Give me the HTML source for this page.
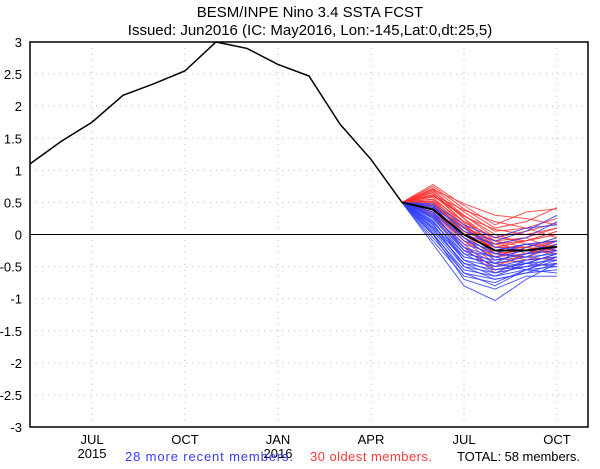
<!DOCTYPE html>
<html><head><meta charset="utf-8"><style>
body{margin:0;background:#fff;}
svg text{font-family:"Liberation Sans",sans-serif;}
</style></head><body>
<svg id="chart" width="600" height="464" viewBox="0 0 600 464" xmlns="http://www.w3.org/2000/svg">
<text x="310" y="17" text-anchor="middle" font-size="15">BESM/INPE Nino 3.4 SSTA FCST</text>
<text x="310" y="35" text-anchor="middle" font-size="15">Issued: Jun2016 (IC: May2016, Lon:-145,Lat:0,dt:25,5)</text>
<g id="grid"></g><g id="series"></g><g id="axes"></g>
<text x="125" y="461" font-size="13" fill="#3a3aff" textLength="168" lengthAdjust="spacing">28 more recent members.</text>
<text x="310" y="461" font-size="13" fill="#ff3a3a" textLength="122" lengthAdjust="spacing">30 oldest members.</text>
<text x="457" y="461" font-size="13" fill="#000" textLength="123" lengthAdjust="spacing">TOTAL: 58 members.</text>
</svg>
<script>
const yTicks=[3,2.5,2,1.5,1,0.5,0,-0.5,-1,-1.5,-2,-2.5,-3];
const yTickLabels=["3","2.5","2","1.5","1","0.5","0","-0.5","-1","-1.5","-2","-2.5","-3"];
const xTickMonths=[2,5,8,11,14,17];
const xTickLabels=["JUL","OCT","JAN","APR","JUL","OCT"];
const xYearLabels=["2015","","2016","","",""];
const obsValues=[1.1,1.45,1.75,2.17,2.35,2.55,3.0,2.9,2.65,2.47,1.72,1.17,0.5];
const forecastStart=12;
const meanValues=[0.5,0.39,0.0,-0.25,-0.25,-0.19];
const redMembers=[
[0.78,0.45,0.15,0.35,0.40],[0.75,0.40,0.10,0.20,0.42],[0.72,0.35,0.05,0.10,0.25],[0.70,0.48,0.30,0.25,0.15],
[0.68,0.30,-0.05,0.05,0.18],[0.65,0.25,-0.10,-0.05,0.10],[0.62,0.20,-0.15,-0.10,0.05],[0.60,0.30,0.00,-0.15,-0.10],
[0.58,0.15,-0.20,-0.20,-0.05],[0.55,0.10,-0.25,-0.15,-0.20],[0.52,0.05,-0.30,-0.25,-0.15],[0.50,0.00,-0.35,-0.30,-0.25],
[0.48,0.10,-0.10,-0.20,-0.30],[0.45,-0.05,-0.40,-0.35,-0.20],[0.42,0.00,-0.20,-0.10,0.00],[0.40,-0.10,-0.45,-0.40,-0.35],
[0.38,0.05,-0.15,-0.25,-0.10],[0.35,-0.15,-0.55,-0.45,-0.30],[0.33,-0.05,-0.30,-0.35,-0.40],[0.30,-0.20,-0.60,-0.50,-0.45],
[0.55,0.20,-0.05,-0.10,0.05],[0.62,0.38,0.20,0.10,-0.05],[0.45,0.12,-0.10,-0.30,-0.15],[0.70,0.25,-0.20,-0.20,-0.10],
[0.38,-0.10,-0.35,-0.20,-0.25],[0.52,0.15,-0.25,-0.40,-0.35],[0.28,-0.25,-0.50,-0.30,-0.20],[0.60,0.28,0.08,0.00,0.10],
[0.47,0.05,-0.15,-0.05,-0.25],[0.66,0.18,-0.30,-0.25,-0.30]];
const blueMembers=[
[0.45,0.05,-0.10,0.05,0.30],[0.40,0.00,-0.15,-0.05,0.20],[0.35,-0.10,-0.25,-0.15,-0.10],[0.30,-0.20,-0.35,-0.25,-0.20],
[0.25,-0.30,-0.40,-0.30,-0.25],[0.20,-0.35,-0.45,-0.35,-0.30],[0.15,-0.40,-0.50,-0.40,-0.35],[0.10,-0.45,-0.55,-0.45,-0.40],
[0.05,-0.50,-0.60,-0.50,-0.45],[0.00,-0.55,-0.65,-0.55,-0.50],[-0.05,-0.60,-0.70,-0.60,-0.55],[-0.10,-0.65,-0.75,-0.55,-0.60],
[-0.15,-0.80,-1.03,-0.70,-0.45],[0.00,-0.70,-0.85,-0.65,-0.65],[0.35,-0.25,-0.50,-0.45,-0.30],[0.28,-0.15,-0.30,-0.35,-0.15],
[0.42,0.10,-0.20,-0.25,-0.20],[0.22,-0.40,-0.60,-0.40,-0.25],[0.18,-0.30,-0.55,-0.50,-0.35],[0.12,-0.35,-0.45,-0.55,-0.40],
[0.38,-0.05,-0.40,-0.30,-0.10],[0.32,-0.20,-0.45,-0.20,-0.05],[0.08,-0.45,-0.65,-0.45,-0.30],[0.48,0.15,-0.05,0.10,0.15],
[0.26,-0.25,-0.35,-0.45,-0.50],[0.16,-0.50,-0.70,-0.60,-0.45],[0.02,-0.60,-0.80,-0.55,-0.35],[0.44,-0.05,-0.30,-0.15,-0.25]];

const L=30,R=588,T=42,B=427;
const xs=i=>L+i*(R-L)/18;
const ys=v=>T+(3-v)*(B-T)/6;
const NS="http://www.w3.org/2000/svg";
function mk(tag,parent,attrs){const e=document.createElementNS(NS,tag);for(const k in attrs)e.setAttribute(k,attrs[k]);parent.appendChild(e);return e;}
const grid=document.getElementById('grid'),series=document.getElementById('series'),axes=document.getElementById('axes');
yTicks.forEach((v,i)=>{
  if(v!==3&&v!==-3&&v!==0){const g=mk('line',grid,{x1:L,x2:R,y1:ys(v),y2:ys(v),stroke:'#bbb','stroke-dasharray':'1,5'});
  
  }
  const t=mk('text',axes,{x:L-8,y:ys(v)+5,'text-anchor':'end','font-size':'13'});t.textContent=yTickLabels[i];
  
  
});
xTickMonths.forEach((m,i)=>{
  const g=mk('line',grid,{x1:xs(m),x2:xs(m),y1:T,y2:B,stroke:'#bbb','stroke-dasharray':'1,5'});
  
  
  const t=mk('text',axes,{x:xs(m),y:B+17,'text-anchor':'middle','font-size':'13'});t.textContent=xTickLabels[i];
  
  
  if(xYearLabels[i]){const y=mk('text',axes,{x:xs(m),y:B+31,'text-anchor':'middle','font-size':'13'});y.textContent=xYearLabels[i];
  
  }
});
const z=mk('line',axes,{x1:L,x2:R,y1:ys(0),y2:ys(0),stroke:'#000','stroke-width':1});


function memberPath(vals,color,name){
  const pts=[[xs(forecastStart),ys(0.5)]].concat(vals.map((v,j)=>[xs(forecastStart+1+j),ys(v)]));
  const p=mk('polyline',series,{points:pts.map(p=>p.join(',')).join(' '),fill:'none',stroke:color,'stroke-width':1,'stroke-opacity':0.85});
  
  
}
redMembers.forEach(m=>memberPath(m,'#ff3030','old-member-line'));
blueMembers.forEach(m=>memberPath(m,'#3040ff','recent-member-line'));
const mean=mk('polyline',series,{points:meanValues.map((v,j)=>xs(forecastStart+j)+','+ys(v)).join(' '),fill:'none',stroke:'#000','stroke-width':2});


const obs=mk('polyline',series,{points:obsValues.map((v,i)=>xs(i)+','+ys(v)).join(' '),fill:'none',stroke:'#000','stroke-width':1.5});


const fr=mk('rect',axes,{x:L,y:T,width:R-L,height:B-T,fill:'none',stroke:'#000','stroke-width':1.5});


</script>
</body></html>
